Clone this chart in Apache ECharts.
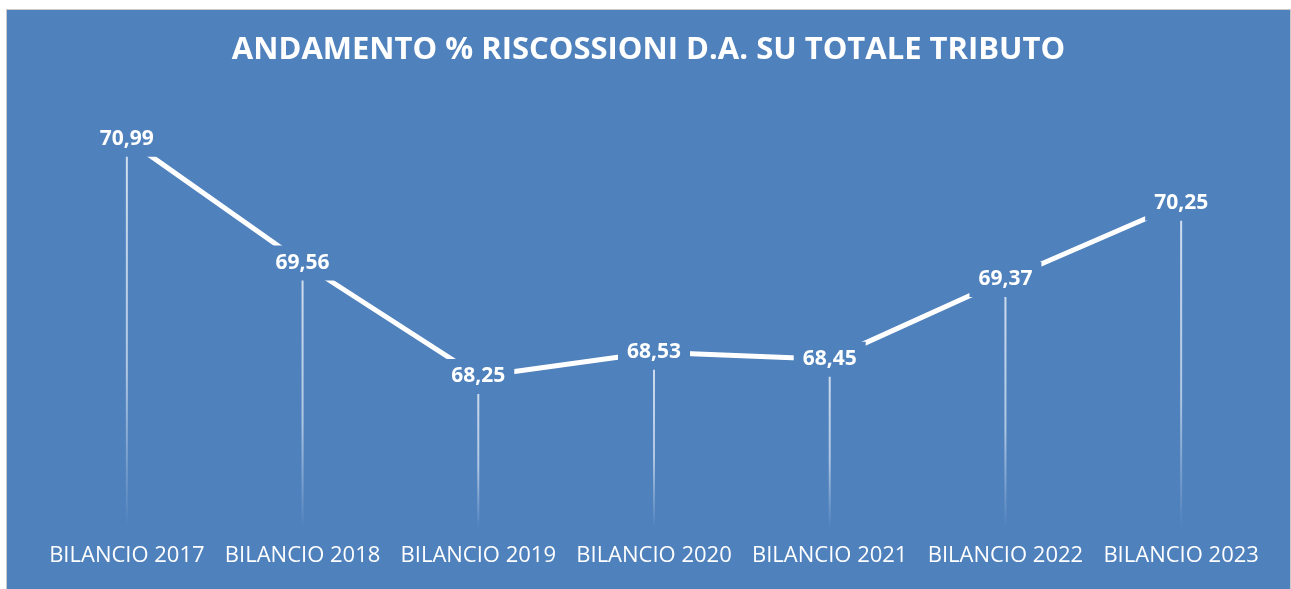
<!DOCTYPE html>
<html lang="it">
<head>
    <meta charset="UTF-8">
    <title>Andamento % riscossioni</title>
    <style>
        html,body{
            width: 100%;
            height: 100%;
            margin: 0;
            padding: 0;
            background: #fff;
            overflow: hidden;
        }
        #main{
            position: absolute;
            left: 6px;
            top: 9px;
            width: 1283px;
            height: 580px;
            border-top: 1px solid #c9c9c9;
            border-left: 1px solid #c9c9c9;
            border-right: 1px solid #c9c9c9;
        }
    </style>
</head>
<body>
<div id="main"></div>

<script src="https://cdn.jsdelivr.net/npm/echarts@6/dist/echarts.min.js"></script>
<script>
    // dati
    var anni = ['BILANCIO 2017', 'BILANCIO 2018', 'BILANCIO 2019', 'BILANCIO 2020', 'BILANCIO 2021', 'BILANCIO 2022', 'BILANCIO 2023'];
    var percentuali = [70.99, 69.56, 68.25, 68.53, 68.45, 69.37, 70.25];
    var titolo = 'ANDAMENTO % RISCOSSIONI D.A. SU TOTALE TRIBUTO';

    var blu = '#4F81BD';
    var myChart = echarts.init(document.getElementById('main'));

    myChart.setOption({
        backgroundColor: blu,
        animation: false,
        title: {
            text: titolo,
            left: 'center',
            top: 20,
            textStyle: {
                color: '#fff',
                fontFamily: 'Open Sans',
                fontWeight: 'bold',
                fontSize: 31
            }
        },
        grid: {
            left: 32,
            right: 21,
            top: 85,
            bottom: 62
        },
        xAxis: {
            type: 'category',
            data: anni,
            axisLine: {show: false},
            axisTick: {show: false},
            axisLabel: {
                interval: 0,
                color: '#fff',
                fontFamily: 'Open Sans',
                fontSize: 22,
                margin: 17
            }
        },
        yAxis: {
            type: 'value',
            min: 66.5,
            max: 71.5,
            show: false,
            splitLine: {show: false}
        },
        series: [
            {
                // linee di proiezione che sfumano verso il basso
                type: 'bar',
                data: percentuali,
                barWidth: 2,
                z: 1,
                silent: true,
                itemStyle: {
                    color: new echarts.graphic.LinearGradient(0, 0, 0, 1, [
                        {offset: 0, color: 'rgba(255,255,255,0.75)'},
                        {offset: 0.6, color: 'rgba(255,255,255,0.55)'},
                        {offset: 1, color: 'rgba(255,255,255,0)'}
                    ])
                }
            },
            {
                type: 'line',
                data: percentuali,
                z: 3,
                symbol: 'circle',
                symbolSize: 1,
                itemStyle: {color: 'rgba(255,255,255,0)'},
                lineStyle: {color: '#fff', width: 5},
                label: {
                    show: true,
                    position: 'inside',
                    color: '#fff',
                    fontFamily: 'Open Sans',
                    fontWeight: 'bold',
                    fontSize: 21,
                    backgroundColor: blu,
                    padding: [7, 9],
                    formatter: function (p) {
                        return p.value.toFixed(2).replace('.', ',');
                    }
                }
            }
        ]
    });
</script>
</body>
</html>
